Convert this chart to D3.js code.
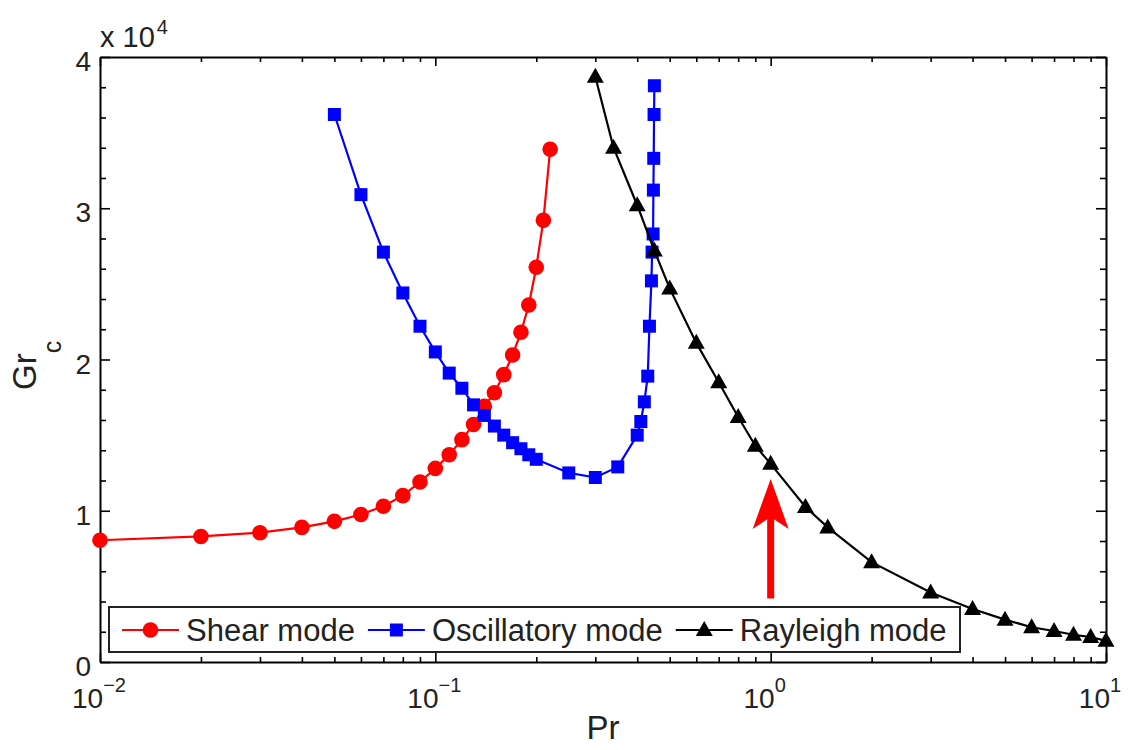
<!DOCTYPE html>
<html>
<head>
<meta charset="utf-8">
<script src="https://cdn.jsdelivr.net/npm/d3@7"></script>
<style>
  html, body { margin: 0; padding: 0; background: #fff; }
  svg { display: block; font-family: "Liberation Sans", Arial, Helvetica, sans-serif; }
</style>
</head>
<body>
<svg id="chart" width="1129" height="750"></svg>
<script>
// ---------- data ----------
const prShear = [0.01,0.02,0.03,0.04,0.05,0.06,0.07,0.08,0.09,0.10,0.11,0.12,0.13,0.14,0.15,0.16,0.17,0.18,0.19,0.20,0.21,0.22];
const grShear = [8050,8300,8550,8900,9300,9750,10300,11000,11900,12800,13700,14700,15700,16900,17800,19000,20300,21800,23600,26100,29200,33900];

const prOsc = [0.05,0.06,0.07,0.08,0.09,0.10,0.11,0.12,0.13,0.14,0.15,0.16,0.17,0.18,0.19,0.20,0.25,0.30,0.35,0.40,0.41,0.42,0.43,0.435,0.441,0.443,0.446,0.447,0.448,0.449,0.45];
const grOsc = [36200,30900,27100,24400,22200,20500,19100,18100,17000,16300,15600,15000,14500,14100,13700,13400,12500,12200,12900,15000,15900,17200,18900,22200,25200,27100,28300,31200,33300,36200,38100];

const prRay = [0.3,0.34,0.4,0.45,0.5,0.6,0.7,0.8,0.9,1,1.27,1.48,2,3,4,5,6,7,8,9,10];
const grRay = [38700,34000,30200,27200,24700,21100,18500,16200,14300,13100,10250,8900,6600,4600,3500,2800,2300,2050,1800,1650,1400];

const seriesNames = ["Shear mode", "Oscillatory mode", "Rayleigh mode"];
const seriesColors = ["#ff0000", "#0000ff", "#000000"];
const seriesMarkers = ["circle", "square", "triangle"];

const xMajorTicks = [0.01, 0.1, 1, 10];
const xMajorExp = ["\u22122", "\u22121", "0", "1"];
const yMajorTicks = [0, 10000, 20000, 30000, 40000];
const yTickLabels = ["0", "1", "2", "3", "4"];

const arrowPr = 1;
const arrowFrom = 4200, arrowTo = 12100;

// ---------- layout ----------
const svg = d3.select("#chart");
const L = 100, R = 1106, T = 57, B = 662;
const x = d3.scaleLog().domain([0.01, 10]).range([L, R]);
const y = d3.scaleLinear().domain([0, 40000]).range([B, T]);

const xMinorTicks = [];
[0.01, 0.1, 1].forEach(d => { for (let k = 2; k <= 9; k++) xMinorTicks.push(+(d * k).toPrecision(3)); });
const yMinorTicks = d3.range(0, 40001, 2000).filter(v => v % 10000 !== 0);

const textCol = "#222";

function styleAxis(g) {
  g.selectAll("path.domain").attr("stroke", "#000").attr("stroke-width", 2);
  g.selectAll(".tick line").attr("stroke", "#000").attr("stroke-width", 1.6);
}
function addAxis(axisFn, pos, ticks, size, keepDomain) {
  const g = svg.append("g").attr("transform", pos)
    .call(axisFn.tickValues(ticks).tickSize(size).tickSizeOuter(0).tickFormat(""));
  if (!keepDomain) g.select(".domain").remove();
  styleAxis(g);
}
// bottom / top / left / right, ticks pointing inward
addAxis(d3.axisBottom(x), `translate(0,${B})`, xMajorTicks, -9, true);
addAxis(d3.axisBottom(x), `translate(0,${B})`, xMinorTicks, -5, false);
addAxis(d3.axisTop(x), `translate(0,${T})`, xMajorTicks, -9, true);
addAxis(d3.axisTop(x), `translate(0,${T})`, xMinorTicks, -5, false);
addAxis(d3.axisLeft(y), `translate(${L},0)`, yMajorTicks, -10, true);
addAxis(d3.axisLeft(y), `translate(${L},0)`, yMinorTicks, -6, false);
addAxis(d3.axisRight(y), `translate(${R},0)`, yMajorTicks, -10, true);
addAxis(d3.axisRight(y), `translate(${R},0)`, yMinorTicks, -6, false);

// y tick labels
svg.append("g").selectAll("text").data(yMajorTicks).join("text")
  .attr("x", L - 9).attr("y", d => y(d) + 14)
  .attr("text-anchor", "end").attr("font-size", 28).attr("fill", textCol)
  .text((d, i) => yTickLabels[i]);

// x tick labels 10^n
const xl = svg.append("g").selectAll("text").data(xMajorTicks).join("text")
  .attr("x", (d, i) => x(d) - (xMajorExp[i].length > 1 ? 1 : 6)).attr("y", 708)
  .attr("text-anchor", "middle").attr("font-size", 28).attr("fill", textCol);
xl.append("tspan").text("10");
xl.append("tspan").attr("dy", -16).attr("font-size", 20).text((d, i) => xMajorExp[i]);

// multiplier label
const mult = svg.append("text").attr("x", L).attr("y", 47).attr("font-size", 29).attr("fill", textCol);
mult.append("tspan").text("x 10");
mult.append("tspan").attr("dx", 2).attr("dy", -13).attr("font-size", 20).text("4");

// axis titles
svg.append("text").attr("x", (L + R) / 2).attr("y", 739)
  .attr("text-anchor", "middle").attr("font-size", 33).attr("fill", textCol).text("Pr");
const yt = svg.append("text").attr("transform", "translate(36,390) rotate(-90)")
  .attr("font-size", 33).attr("fill", textCol);
yt.append("tspan").text("Gr");
yt.append("tspan").attr("dy", 25).attr("font-size", 25).text("c");

// ---------- series ----------
function drawMarker(sel, type, color) {
  if (type === "circle") {
    sel.append("circle").attr("r", 7.8).attr("fill", color);
  } else if (type === "square") {
    sel.append("path").attr("d", "M-6.5,-6.5H6.5V6.5H-6.5Z").attr("fill", color);
  } else {
    sel.append("path").attr("d", "M0,-9L8.5,6L-8.5,6Z").attr("fill", color);
  }
}

const series = [
  { pr: prShear, gr: grShear },
  { pr: prOsc, gr: grOsc },
  { pr: prRay, gr: grRay }
];
const line = d3.line().x(d => x(d[0])).y(d => y(d[1]));

series.forEach((s, i) => {
  const pts = s.pr.map((p, j) => [p, s.gr[j]]);
  const g = svg.append("g");
  g.append("path").datum(pts).attr("d", line)
    .attr("fill", "none").attr("stroke", seriesColors[i]).attr("stroke-width", 2.2);
  g.selectAll("g.m").data(pts).join("g").attr("class", "m")
    .attr("transform", d => `translate(${x(d[0])},${y(d[1])})`)
    .each(function () { drawMarker(d3.select(this), seriesMarkers[i], seriesColors[i]); });
});

// ---------- arrow annotation ----------
const ax = x(arrowPr), ay0 = y(arrowFrom), ay1 = y(arrowTo);
svg.append("rect").attr("x", ax - 3.5).attr("y", ay1 + 34).attr("width", 7).attr("height", ay0 - ay1 - 34)
  .attr("fill", "#ff0000");
svg.append("path")
  .attr("d", `M${ax},${ay1} L${ax + 18},${ay1 + 50} L${ax},${ay1 + 38} L${ax - 18},${ay1 + 50} Z`)
  .attr("fill", "#ff0000");

// ---------- legend ----------
const leg = svg.append("g");
const legRect = leg.append("rect").attr("x", 109).attr("y", 607).attr("height", 45)
  .attr("fill", "#fff").attr("stroke", "#222").attr("stroke-width", 2);
let cx = 122;
const ly = 630;
seriesNames.forEach((name, i) => {
  leg.append("line").attr("x1", cx).attr("x2", cx + 57).attr("y1", ly).attr("y2", ly)
    .attr("stroke", seriesColors[i]).attr("stroke-width", 2.2);
  const mg = leg.append("g").attr("transform", `translate(${cx + 28.5},${ly})`);
  drawMarker(mg, seriesMarkers[i], seriesColors[i]);
  const t = leg.append("text").attr("x", cx + 64).attr("y", ly + 11)
    .attr("font-size", 31).attr("fill", textCol).text(name);
  const w = t.node().getComputedTextLength();
  cx = cx + 64 + w + 13;
});
legRect.attr("width", 960 - 109);
</script>
</body>
</html>
